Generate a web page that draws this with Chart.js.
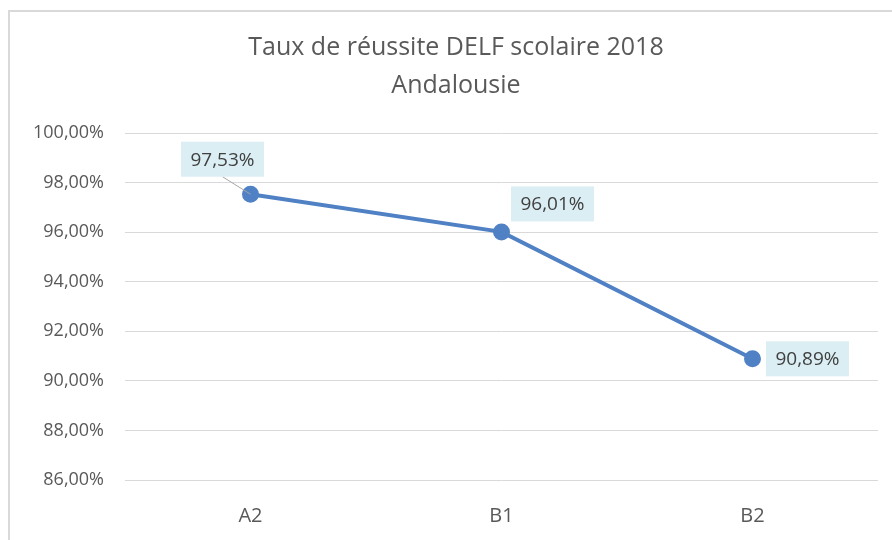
<!DOCTYPE html>
<html>
<head>
<meta charset="utf-8">
<script src="https://cdn.jsdelivr.net/npm/chart.js@4/dist/chart.umd.min.js"></script>
<style>
  html, body { margin: 0; padding: 0; background: #fff; overflow: hidden; width: 892px; height: 540px; }
  #frame { position: absolute; left: 8px; top: 10px; width: 920px; height: 600px; border: 2px solid #d9d9d9; box-sizing: border-box; }
  #chart { position: absolute; left: 0; top: 0; }
</style>
</head>
<body>
<div id="frame"></div>
<canvas id="chart" width="912" height="540"></canvas>
<script>
const titleLines = ['Taux de réussite DELF scolaire 2018', 'Andalousie'];
const categories = ['A2', 'B1', 'B2'];
const successRates = [97.53, 96.01, 90.89];
const yTicks = [86, 88, 90, 92, 94, 96, 98, 100];

const fmtPct = v => v.toFixed(2).replace('.', ',') + '%';

// label box offsets from the point (dx, dy of box centre)
const labelOffsets = [[-28, -35], [51, -28], [55, 0]];

const dataLabels = {
    id: 'dataLabels',
    afterDatasetsDraw(chart) {
        const ctx = chart.ctx;
        const meta = chart.getDatasetMeta(0);
        ctx.save();
        ctx.font = '19px "Open Sans", sans-serif';
        ctx.textAlign = 'center';
        ctx.textBaseline = 'middle';
        meta.data.forEach((pt, i) => {
            const [dx, dy] = labelOffsets[i];
            const cx = pt.x + dx, cy = pt.y + dy;
            const w = 83, h = 35;
            if (i === 0) {
                ctx.strokeStyle = '#a6a6a6';
                ctx.lineWidth = 1;
                ctx.beginPath();
                ctx.moveTo(cx, cy + h / 2);
                ctx.lineTo(pt.x, pt.y);
                ctx.stroke();
            }
            ctx.fillStyle = '#dbeef4';
            ctx.fillRect(cx - w / 2, cy - h / 2, w, h);
            ctx.fillStyle = '#404040';
            ctx.fillText(fmtPct(successRates[i]), cx, cy + 1);
        });
        ctx.restore();
    }
};

new Chart(document.getElementById('chart'), {
    type: 'line',
    data: {
        labels: categories,
        datasets: [{
            data: successRates,
            borderColor: '#4f81c4',
            backgroundColor: '#4f81c4',
            borderWidth: 4,
            pointRadius: 6.5,
            pointHoverRadius: 6.5,
            tension: 0
        }]
    },
    options: {
        responsive: false,
        animation: false,
        layout: { padding: { top: 29, right: 34, left: 34, bottom: 0 } },
        plugins: {
            legend: { display: false },
            tooltip: { enabled: false },
            title: {
                display: true,
                text: titleLines,
                color: '#595959',
                font: { family: '"Open Sans", sans-serif', size: 25, weight: 'normal', lineHeight: 1.52 },
                padding: { top: 0, bottom: 28 }
            }
        },
        scales: {
            x: {
                offset: true,
                grid: { display: false, drawTicks: false },
                border: { display: false },
                ticks: { color: '#595959', font: { family: '"Open Sans", sans-serif', size: 20 }, padding: 24 },
                afterFit: s => { s.height = 60; }
            },
            y: {
                min: 86,
                max: 100,
                afterBuildTicks: s => { s.ticks = yTicks.map(v => ({ value: v })); },
                grid: { color: '#d9d9d9', lineWidth: 1, drawTicks: false },
                border: { display: false },
                ticks: {
                    color: '#595959',
                    font: { family: '"Open Sans", sans-serif', size: 18 },
                    padding: 21,
                    callback: v => fmtPct(v)
                },
                afterFit: s => { s.width = 91; }
            }
        }
    },
    plugins: [dataLabels]
});
</script>
</body>
</html>
